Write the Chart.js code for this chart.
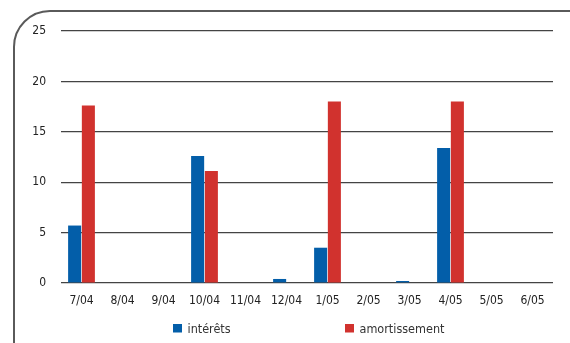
<!DOCTYPE html>
<html>
<head>
<meta charset="utf-8">
<script src="https://cdn.jsdelivr.net/npm/chart.js@4.4.0/dist/chart.umd.min.js"></script>
<style>
  html, body { margin: 0; padding: 0; background: #fff; }
  #wrap { width: 570px; height: 343px; position: relative; }
</style>
</head>
<body>
<div id="wrap"><canvas id="c" width="570" height="343"></canvas></div>
<script>
const categories = ['7/04', '8/04', '9/04', '10/04', '11/04', '12/04', '1/05', '2/05', '3/05', '4/05', '5/05', '6/05'];
const interets = [5.7, 0, 0, 12.6, 0, 0.4, 3.5, 0, 0.2, 13.4, 0, 0];
const amortissement = [17.6, 0, 0, 11.1, 0, 0, 18.0, 0, 0, 18.0, 0, 0];
const yTicks = [0, 5, 10, 15, 20, 25];

const seriesNames = ['intérêts', 'amortissement'];
const seriesColors = ['#035ea9', '#d1322e'];
const FONT = '"DejaVu Sans Condensed", "Liberation Sans", sans-serif';

// Frame with a rounded top-left corner, open on the right and bottom
const framePlugin = {
  id: 'frame',
  beforeDraw(chart) {
    const ctx = chart.ctx;
    const r = 36;
    ctx.save();
    ctx.strokeStyle = '#5a5a5a';
    ctx.lineWidth = 2;
    ctx.beginPath();
    ctx.moveTo(14, chart.height + 2);
    ctx.lineTo(14, 11 + r);
    ctx.arcTo(14, 11, 14 + r, 11, r);
    ctx.lineTo(chart.width + 2, 11);
    ctx.stroke();
    ctx.restore();
  }
};

// Legend drawn under the axis
const legendPlugin = {
  id: 'bottomLegend',
  afterDraw(chart) {
    const ctx = chart.ctx;
    const items = [
      { x: 173, text: seriesNames[0], color: seriesColors[0] },
      { x: 345, text: seriesNames[1], color: seriesColors[1] }
    ];
    ctx.save();
    ctx.font = '12.5px ' + FONT;
    ctx.textBaseline = 'alphabetic';
    ctx.textAlign = 'left';
    items.forEach(it => {
      ctx.fillStyle = it.color;
      ctx.fillRect(it.x, 324, 9, 8.5);
      ctx.fillStyle = '#333';
      ctx.fillText(it.text, it.x + 14.5, 332.5);
    });
    ctx.restore();
  }
};

new Chart(document.getElementById('c'), {
  type: 'bar',
  data: {
    labels: categories,
    datasets: [
      { label: seriesNames[0], data: interets, backgroundColor: seriesColors[0] },
      { label: seriesNames[1], data: amortissement, backgroundColor: seriesColors[1] }
    ]
  },
  options: {
    responsive: false,
    animation: false,
    devicePixelRatio: 1,
    layout: { padding: { top: 31, right: 17, bottom: 0, left: 0 } },
    datasets: { bar: { categoryPercentage: 0.67, barPercentage: 0.95 } },
    plugins: { legend: { display: false }, tooltip: { enabled: false } },
    scales: {
      x: {
        grid: { display: false, drawTicks: false },
        border: { display: false },
        ticks: { color: '#222', font: { family: FONT, size: 12 }, padding: 11, maxRotation: 0, autoSkip: false },
        afterFit(s) { s.height = 60; }
      },
      y: {
        min: 0, max: 25,
        afterBuildTicks(s) { s.ticks = yTicks.map(v => ({ value: v })); },
        grid: { color: '#444', lineWidth: 1.2, drawTicks: false },
        border: { display: false },
        ticks: { color: '#222', font: { family: FONT, size: 12 }, padding: 15 },
        afterFit(s) { s.width = 61; }
      }
    }
  },
  plugins: [framePlugin, legendPlugin]
});
</script>
</body>
</html>
